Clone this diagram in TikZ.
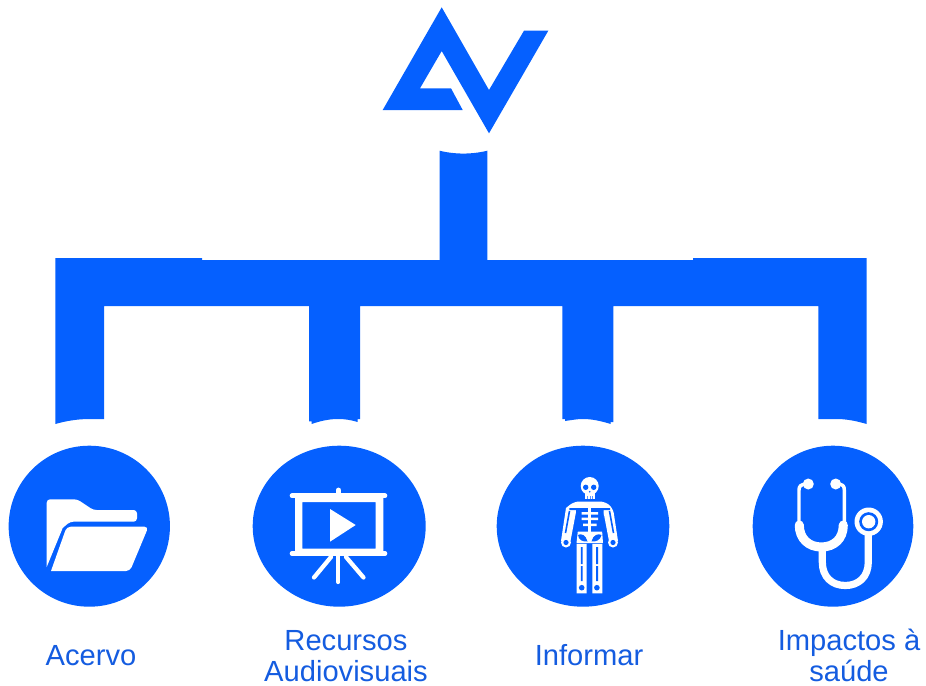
\documentclass[tikz,border=0pt]{standalone}
\usepackage{fontspec}
\usetikzlibrary{shapes.geometric}
\setmainfont{Liberation Sans}
\definecolor{avblue}{HTML}{0560FF}
\definecolor{avtext}{HTML}{145CE0}
\tikzset{
  disc/.style={ellipse,fill=avblue,inner sep=0pt,draw=none},
  caption/.style={text=avtext,font=\fontsize{21.85pt}{26pt}\selectfont,anchor=base,inner sep=0pt},
  wline/.style={draw=white,line cap=round,line join=round}
}
\begin{document}
\begin{tikzpicture}[x=0.75pt,y=-0.75pt]
\useasboundingbox (0,0) rectangle (926,686);
% logo
\fill[avblue] (441.7,7.3) -- (489,90) -- (524,30.7) -- (548.3,30.7) -- (489,133.3) -- (441.7,51) -- (420,88.3) -- (451,88.3) -- (462.7,110) -- (382.7,110) -- cycle;
% stem
\fill[avblue] (439.5,150.7) .. controls (455,154.5) and (472,154.5) .. (487.3,150.7) -- (487.3,262) -- (439.5,262) -- cycle;
% bar and legs
\fill[avblue] (55.3,258) -- (202,258) -- (202,260) -- (693,260) -- (693,258) -- (866.7,258)
  -- (866.7,424) .. controls (858,421.5) and (849,419.3) .. (838,419) -- (818.3,419) -- (818.3,306)
  -- (613.3,306) -- (613.3,422) -- (610.7,422) -- (610.7,424) .. controls (601,421) and (592,419) .. (583,419) .. controls (577,419) and (572,420) .. (565,421) -- (565,419) -- (562.3,419) -- (562.3,306)
  -- (360,306) -- (360,419) -- (357.7,419) -- (357.7,422) .. controls (351,420) and (345,419) .. (338,419) .. controls (329,419) and (320,421) .. (311.7,424) -- (311.7,421.3) -- (309,421.3) -- (309,306)
  -- (104,306) -- (104,419) -- (90,419) .. controls (77,419) and (66,421) .. (55.3,424) -- cycle;
% discs
\node[disc,minimum width={161.3*0.75pt},minimum height={161*0.75pt}] (c1) at (89.3,526.2) {};
\node[disc,minimum width={173*0.75pt},minimum height={161*0.75pt}] (c2) at (339.2,526.2) {};
\node[disc,minimum width={172.6*0.75pt},minimum height={161*0.75pt}] (c3) at (583,526.2) {};
\node[disc,minimum width={160.6*0.75pt},minimum height={161*0.75pt}] (c4) at (833,526.2) {};
% folder
\fill[white,rounded corners=2.5pt] (46.7,567) -- (46.7,499.3) -- (77.3,499.3) -- (93.3,510) -- (137,510) -- (137,521.7) -- (70,521.7) [sharp corners] -- (62.7,528) -- cycle;
\fill[white,rounded corners=3pt] (51,571) -- (66.7,526.7) -- (148.5,526.7) -- (130,571) [sharp corners] -- cycle;
% projector
\draw[wline,line width=3.5pt] (292,495.7) -- (385,495.7);
\draw[wline,line width=3.5pt] (292,553.5) -- (385,553.5);
\fill[white,even odd rule] (295,495.7) rectangle (383.3,553.5) (302.3,502) rectangle (375.7,548.7);
\draw[wline,line width=3.6pt] (338.3,490) -- (338.3,495);
\fill[white] (330,509) -- (355.7,525) -- (330,541.7) -- cycle;
\draw[wline,line width=3.2pt] (338.3,556) -- (338.3,582);
\draw[wline,line width=3.2pt] (331,557) -- (314,577.5);
\draw[wline,line width=3.2pt] (346,557) -- (363.5,577.5);
% skeleton
\fill[white] (589.7,486) circle[radius=9];
\fill[white] (584.5,490) rectangle (594.8,499.3);
\fill[avblue] (585.7,487.3) circle[radius=2.7] (593.7,487.3) circle[radius=2.7] (589.7,491.7) circle[radius=0.9];
\fill[avblue] (587.3,496) rectangle (587.9,499.3) (590,496) rectangle (590.6,499.3) (592,496) rectangle (592.6,499.3);
\fill[white,rounded corners=4pt] (566,508) -- (574,501.5) -- (605,501.5) -- (613,508) [sharp corners] -- (618,541) -- (609,541) -- (603.5,512) -- (602,530) -- (603,543) -- (576.5,543) -- (578,530) -- (576,512) -- (570.5,541) -- (561,541) -- cycle;
\fill[white] (566,542.5) circle[radius=5] (613,542.5) circle[radius=5];
\fill[avblue] (566,542.5) circle[radius=2.6] (613,542.5) circle[radius=2.6];
\draw[avblue,line width=1.2pt] (569.5,511) -- (565.5,533);
\draw[avblue,line width=1.2pt] (609.5,511) -- (613.5,533);
\fill[avblue] (576,508) rectangle (603.5,531.5) (569.3,508) rectangle (587,510) (592,508) rectangle (610,510);
\fill[white] (587.9,505) rectangle (591.3,533);
\fill[white] (581.7,512) rectangle (598,514.7) (581.7,517.5) rectangle (598,520.2) (583,523.5) rectangle (596.5,526);
\fill[avblue] (578,535) .. controls (581,533) and (586,535) .. (587.5,541.5) .. controls (583,542) and (578.5,540) .. (578,535) -- cycle;
\fill[avblue] (601.5,535) .. controls (598,533) and (593,535) .. (591.5,541.5) .. controls (596,542) and (600.5,540) .. (601.5,535) -- cycle;
\fill[white] (576.7,543.8) rectangle (586.7,593.3) (592.3,543.8) rectangle (602.3,593.3);
\fill[avblue] (580.8,547) rectangle (582.6,564) (580.8,566) rectangle (582.6,581)
  (596.2,547) rectangle (598,564) (596.2,566) rectangle (598,581);
\fill[avblue] (581.7,587.7) circle[radius=2.8] (596.9,587.7) circle[radius=2.8];
% stethoscope
\draw[white,line width=2.6pt,line cap=round,line join=round] (806,484) .. controls (801,484.5) and (799,486) .. (799,490) -- (799,526);
\draw[white,line width=2.6pt,line cap=round,line join=round] (838,484) .. controls (843,484.5) and (844.3,486) .. (844.3,490) -- (844.3,526);
\fill[white] (808.3,484) circle[radius=5.5] (835.7,484) circle[radius=5.5];
\draw[white,line width=6.8pt,line cap=round] (799.3,525) .. controls (799.3,539) and (809,547) .. (821.3,547) .. controls (834,547) and (843.3,539) .. (843.3,525);
\draw[white,line width=5.4pt] (822.3,548) -- (822.3,562) .. controls (822.3,577) and (832,585.5) .. (845.3,585.5) .. controls (858.5,585.5) and (868.3,577) .. (868.3,562) -- (868.3,533);
\fill[white] (868.7,521.7) circle[radius=14.2];
\fill[avblue] (868.7,521.7) circle[radius=9.5];
\fill[white] (868.7,521.7) circle[radius=6.7];
% labels
\node[caption] (t1) at (91,665.5) {Acervo};
\node[caption] (t2a) at (346,650.5) {Recursos};
\node[caption] (t2b) at (346,681) {Audiovisuais};
\node[caption] (t3) at (589,665.5) {Informar};
\node[caption] (t4a) at (849,650.5) {Impactos à};
\node[caption] (t4b) at (849,681) {saúde};
\end{tikzpicture}
\end{document}
